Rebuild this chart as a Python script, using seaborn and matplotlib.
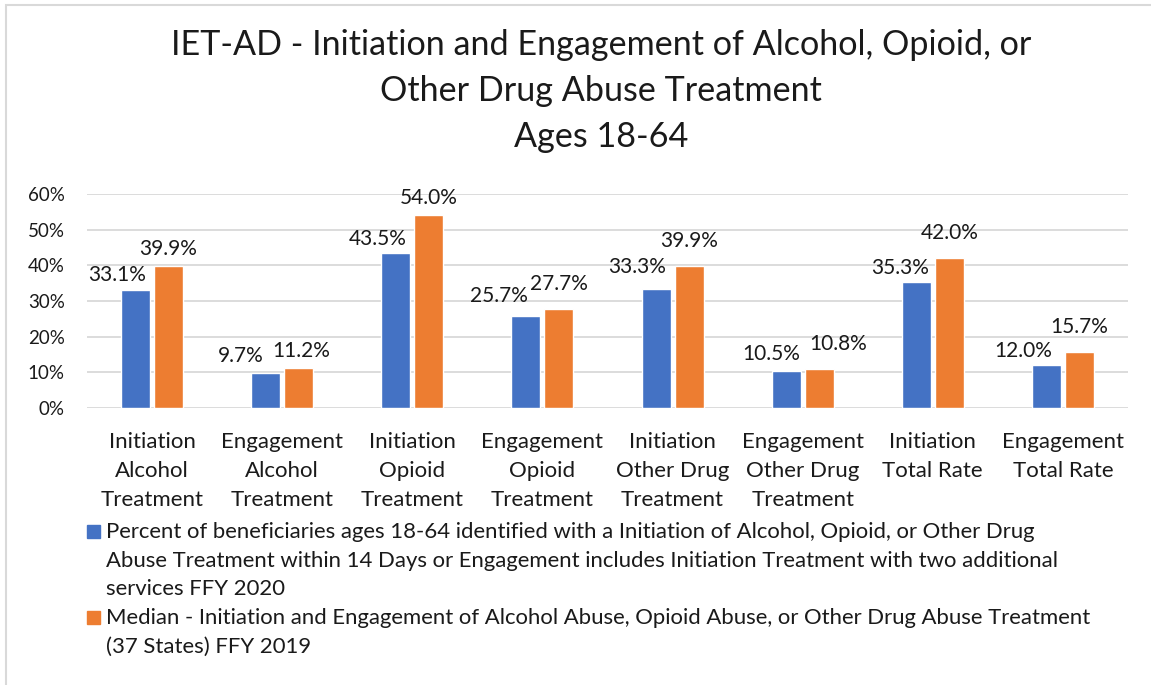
import matplotlib
matplotlib.use("Agg")
import matplotlib.pyplot as plt
from matplotlib.patches import Rectangle
from matplotlib.ticker import PercentFormatter
import pandas as pd
import seaborn as sns

# datos
categorias = [
    "Initiation\nAlcohol\nTreatment",
    "Engagement\nAlcohol\nTreatment",
    "Initiation\nOpioid\nTreatment",
    "Engagement\nOpioid\nTreatment",
    "Initiation\nOther Drug\nTreatment",
    "Engagement\nOther Drug\nTreatment",
    "Initiation\nTotal Rate",
    "Engagement\nTotal Rate",
]
serie_2020 = [33.1, 9.7, 43.5, 25.7, 33.3, 10.5, 35.3, 12.0]
serie_2019 = [39.9, 11.2, 54.0, 27.7, 39.9, 10.8, 42.0, 15.7]
nombres = [
    "Percent of beneficiaries ages 18-64 identified with a Initiation of Alcohol, Opioid, or Other Drug\n"
    "Abuse Treatment within 14 Days or Engagement includes Initiation Treatment with two additional\n"
    "services FFY 2020",
    "Median - Initiation and Engagement of Alcohol Abuse, Opioid Abuse, or Other Drug Abuse Treatment\n"
    "(37 States) FFY 2019",
]
colores = ["#4472C4", "#ED7D31"]
titulo = "IET-AD - Initiation and Engagement of Alcohol, Opioid, or\nOther Drug Abuse Treatment\nAges 18-64"

# desplazamiento de etiquetas (px) como en Excel: dx y separacion sobre la barra
dx_px = [[-18, -24.5, -18.5, -27, -18.5, -15, -16, -23],
         [0, 2.5, 0, 0, 0, 19, 0, 0]]
gap_px = [[8, 10, 7, 13, 15, 10, 7, 7],
          [10, 10, 10, 18, 18, 18, 18, 18]]

sns.set_style("white")
plt.rcParams["font.family"] = ["Lato", "DejaVu Sans"]

df = pd.DataFrame({
    "categoria": categorias * 2,
    "valor": [v / 100 for v in serie_2020 + serie_2019],
    "serie": [nombres[0]] * len(categorias) + [nombres[1]] * len(categorias),
})

fig = plt.figure(figsize=(11.51, 6.85), dpi=100)
ax = fig.add_axes([87 / 1151, 1 - 408 / 685, (1128 - 87) / 1151, (408 - 194) / 685])

sns.barplot(data=df, x="categoria", y="valor", hue="serie", palette=colores,
            width=0.507, gap=0.12, ax=ax, legend=False, saturation=1)

ax.set_ylim(0, 0.6)
ax.set_yticks([0, 0.1, 0.2, 0.3, 0.4, 0.5, 0.6])
ax.yaxis.set_major_formatter(PercentFormatter(1.0, decimals=0))
ax.grid(axis="y", color="#D9D9D9", lw=1.3)
ax.set_axisbelow(True)
for s in ax.spines.values():
    s.set_visible(False)
ax.set_xlabel("")
ax.set_ylabel("")
ax.tick_params(axis="y", length=0, pad=16, labelsize=13.5, colors="#1a1a1a")
ax.tick_params(axis="x", length=0, pad=17, labelsize=16, colors="#1a1a1a")
for t in ax.get_xticklabels():
    t.set_linespacing(1.57)

# etiquetas de datos
for i, cont in enumerate(ax.containers):
    anns = ax.bar_label(cont, labels=[f"{b.get_height() * 100:.1f}%" for b in cont],
                        padding=4, fontsize=15, color="#1a1a1a")
    for j, a in enumerate(anns):
        a.xyann = (dx_px[i][j] * 0.72, (gap_px[i][j] - 3) * 0.72)

fig.text(601 / 1151, 1 - 91 / 685, titulo, ha="center", va="center",
         fontsize=24.6, linespacing=1.53, color="#1a1a1a")

# leyenda
y0 = [525, 611]
for k in range(2):
    fig.patches.append(Rectangle((87 / 1151, 1 - (y0[k] + 13) / 685), 13 / 1151, 13 / 685,
                                 transform=fig.transFigure, color=colores[k]))
    fig.text(106 / 1151, 1 - (y0[k] - 2.5) / 685, nombres[k], ha="left", va="top",
             fontsize=15.9, linespacing=1.53, color="#1a1a1a")

fig.patches.append(Rectangle((6 / 1151, -0.1), 1.2, 1.1 - 5 / 685, transform=fig.transFigure,
                             fill=False, edgecolor="#D9D9D9", lw=1.5))

fig.savefig("out.png", dpi=100)
